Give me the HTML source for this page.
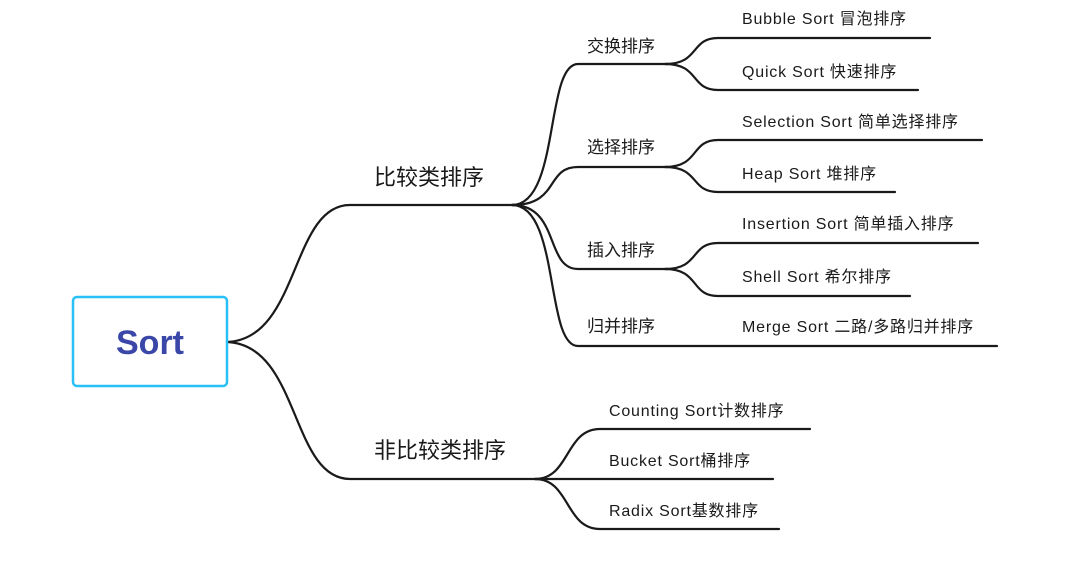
<!DOCTYPE html>
<html><head><meta charset="utf-8"><style>
html,body{margin:0;padding:0;background:#fff;width:1066px;height:567px;overflow:hidden}
svg text{font-family:"Liberation Sans","Noto Sans CJK SC",sans-serif;fill:#1a1a1a}
</style></head><body>
<svg width="1066" height="567" viewBox="0 0 1066 567" xmlns="http://www.w3.org/2000/svg">
<g fill="none" stroke="#1a1a1a" stroke-width="2.2" stroke-linecap="round">
<path d="M225,342 C300,342 290,205 350,205 L515,205"/>
<path d="M225,342 C300,342 290,479 350,479 L540,479"/>
<path d="M512,205 C560,205 545,64 578,64 L668,64"/>
<path d="M512,205 C560,205 545,167 578,167 L668,167"/>
<path d="M512,205 C560,205 545,269 578,269 L668,269"/>
<path d="M512,205 C560,205 545,346 578,346 L997,346"/>
<path d="M665,64 C700,64 690,38 718,38 L930,38"/>
<path d="M665,64 C700,64 690,90 718,90 L918,90"/>
<path d="M665,167 C700,167 690,140 718,140 L982,140"/>
<path d="M665,167 C700,167 690,192 718,192 L895,192"/>
<path d="M665,269 C700,269 690,243 718,243 L978,243"/>
<path d="M665,269 C700,269 690,296 718,296 L910,296"/>
<path d="M535,479 C570,479 565,429 600,429 L810,429"/>
<path d="M535,479 L773,479"/>
<path d="M535,479 C570,479 565,529 600,529 L779,529"/>
</g>
<rect x="73" y="297" width="154" height="89" rx="4" fill="#fff" stroke="#29c0f7" stroke-width="2.5"/>
<text x="150" y="354" text-anchor="middle" font-size="34" font-weight="bold" style="fill:#3b47a8">Sort</text>
<g font-size="22">
<text x="374" y="185">比较类排序</text>
<text x="374" y="458">非比较类排序</text>
</g>
<g font-size="17">
<text x="587" y="52">交换排序</text>
<text x="587" y="153">选择排序</text>
<text x="587" y="256">插入排序</text>
<text x="587" y="332">归并排序</text>
</g>
<g font-size="16" letter-spacing="0.8">
<text x="742" y="24">Bubble Sort 冒泡排序</text>
<text x="742" y="77">Quick Sort 快速排序</text>
<text x="742" y="127">Selection Sort 简单选择排序</text>
<text x="742" y="179">Heap Sort 堆排序</text>
<text x="742" y="229">Insertion Sort 简单插入排序</text>
<text x="742" y="282">Shell Sort 希尔排序</text>
<text x="742" y="332">Merge Sort 二路/多路归并排序</text>
<text x="609" y="416">Counting Sort计数排序</text>
<text x="609" y="466">Bucket Sort桶排序</text>
<text x="609" y="516">Radix Sort基数排序</text>
</g>
</svg>
</body></html>
